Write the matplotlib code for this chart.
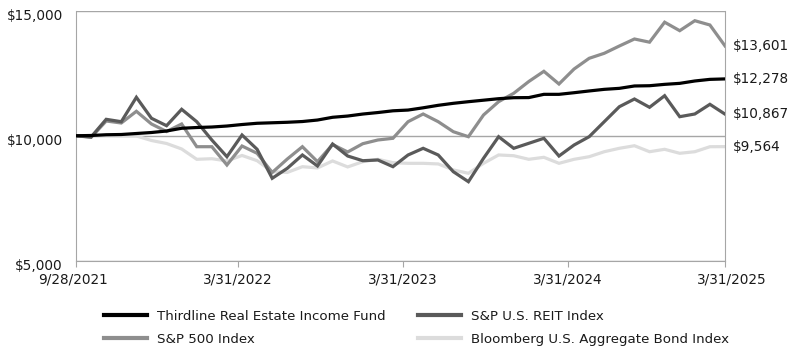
import numpy as np
import matplotlib
matplotlib.use('Agg')
import matplotlib.pyplot as plt
import matplotlib.transforms as mtransforms
from matplotlib.ticker import FuncFormatter

# growth of $10,000, 9/28/2021 inception then month-ends to 3/31/2025
fund = [10000, 10010, 10040, 10050, 10090, 10130, 10190, 10300, 10330, 10350,
        10390, 10450, 10500, 10520, 10540, 10570, 10630, 10740, 10790, 10870,
        10930, 11000, 11030, 11120, 11220, 11300, 11365, 11425, 11485, 11525,
        11530, 11660, 11660, 11725, 11795, 11860, 11900, 11995, 12005, 12060,
        12100, 12195, 12260, 12278]
reit = [10000, 9950, 10659, 10563, 11541, 10700, 10403, 11060, 10563, 9830,
        9160, 10030, 9457, 8295, 8695, 9229, 8788, 9669, 9188, 9000,
        9028, 8760, 9229, 9497, 9229, 8559, 8158, 9096, 9962, 9497,
        9697, 9898, 9188, 9629, 9962, 10563, 11164, 11473, 11140, 11605,
        10764, 10872, 11260, 10867]
sp500 = [10000, 9938, 10591, 10511, 10980, 10471, 10170, 10471, 9561, 9561,
         8828, 9589, 9297, 8527, 9068, 9561, 8960, 9649, 9349, 9681,
         9830, 9898, 10563, 10872, 10563, 10162, 9962, 10832, 11365, 11701,
         12174, 12583, 12074, 12675, 13104, 13305, 13597, 13878, 13750, 14551,
         14211, 14611, 14439, 13601]
bond = [10000, 9980, 10010, 9990, 9990, 9810, 9690, 9470, 9056, 9080,
        8990, 9210, 9000, 8560, 8530, 8760, 8710, 8990, 8750, 8960,
        9056, 8920, 8895, 8895, 8870, 8630, 8495, 8895, 9230, 9200,
        9056, 9136, 8895, 9056, 9160, 9360, 9497, 9600, 9360, 9457,
        9297, 9360, 9560, 9564]

names = ['Thirdline Real Estate Income Fund', 'S&P U.S. REIT Index',
         'S&P 500 Index', 'Bloomberg U.S. Aggregate Bond Index']
tick_labels = ['9/28/2021', '3/31/2022', '3/31/2023', '3/31/2024', '3/31/2025']
tick_pos = [0, 10.74, 21.67, 32.6, 43]

colors = ['#000000', '#5a5a5a', '#8e8e8e', '#dcdcdc']
axis_color = '#a6a6a6'
text_color = '#1a1a1a'

fig = plt.figure(figsize=(8.02, 3.57), dpi=100)
ax = fig.add_axes([76 / 802, 1 - 260.5 / 357, 649 / 802, 249.5 / 357])

x = np.arange(len(fund))
series = [fund, reit, sp500, bond]
zorders = [5, 4, 3, 2]
lines = []
for s, c, z, n in zip(series, colors, zorders, names):
    ln, = ax.plot(x, s, color=c, lw=2.3, zorder=z, label=n, solid_joinstyle='miter')
    lines.append(ln)
    ax.annotate(f'${s[-1]:,}', xy=(x[-1], s[-1]), xytext=(6, 0),
                textcoords='offset points', va='center', ha='left',
                fontsize=9.8, color=text_color, annotation_clip=False)

ax.set_xlim(0, len(fund) - 1)
ax.set_ylim(5000, 15000)
ax.set_yticks([5000, 10000, 15000])
ax.yaxis.set_major_formatter(FuncFormatter(lambda v, p: f'${v:,.0f}'))
ax.set_xticks(tick_pos)
ax.set_xticklabels(tick_labels)

ax.grid(axis='y', color=axis_color, lw=1.0, zorder=0)
for side in ['left', 'right', 'bottom']:
    ax.spines[side].set_color(axis_color)
ax.spines['top'].set_visible(False)

ax.tick_params(axis='y', length=0, pad=9.5, labelsize=9.8, labelcolor=text_color)
ax.tick_params(axis='x', length=4.3, color=axis_color, pad=4.5, labelsize=9.8,
               labelcolor=text_color)
up = mtransforms.ScaledTranslation(0, 2 / 100, fig.dpi_scale_trans)
for lab in ax.get_yticklabels():
    lab.set_va('top')
    lab.set_transform(lab.get_transform() + up)
xl = ax.get_xticklabels()
shift = mtransforms.ScaledTranslation(7 / 100, 0, fig.dpi_scale_trans)
xl[-1].set_transform(xl[-1].get_transform() + shift)
xl[0].set_transform(xl[0].get_transform()
                    + mtransforms.ScaledTranslation(-3 / 100, 0, fig.dpi_scale_trans))

order = [0, 2, 1, 3]
leg = fig.legend([lines[i] for i in order], [names[i] for i in order],
                 loc='upper left', bbox_to_anchor=(104 / 802, 1 - 310 / 357),
                 ncol=2, frameon=False, fontsize=9.6, handlelength=3.2,
                 handletextpad=0.75, columnspacing=2.45, labelspacing=0.72,
                 borderpad=0, borderaxespad=0)
for t in leg.get_texts():
    t.set_color(text_color)
for h in leg.legend_handles:
    h.set_linewidth(3)

fig.savefig('out.png', dpi=100)
